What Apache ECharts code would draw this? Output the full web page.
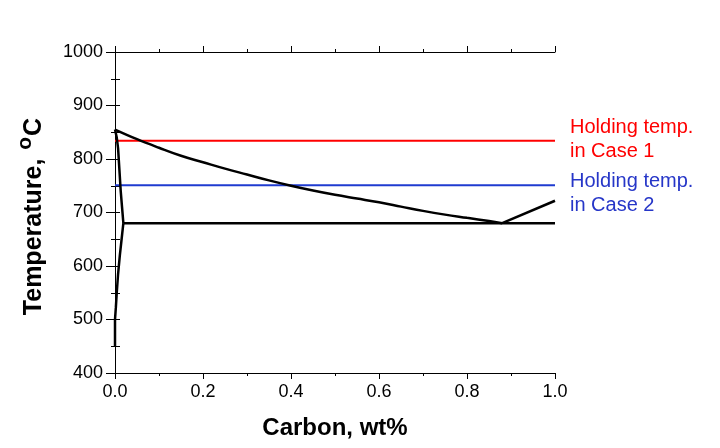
<!DOCTYPE html>
<html>
<head>
<meta charset="utf-8">
<script src="https://cdn.jsdelivr.net/npm/echarts@6/dist/echarts.min.js"></script>
<style>html,body{margin:0;padding:0;background:#fff}#c{width:720px;height:448px}</style>
</head>
<body>
<div id="c"></div>
<script>
// A3 line (alpha+gamma / gamma boundary), [carbon wt%, temperature]
const a3Line = [[0,855],[0.05,837],[0.1,821],[0.15,806],[0.2,794],[0.25,782],[0.3,771],[0.35,760],[0.4,750],[0.45,741],[0.5,733],[0.55,726],[0.6,719],[0.65,711],[0.7,703],[0.75,696],[0.8,690],[0.85,684],[0.88,680]];
// Acm line
const acmLine = [[0.88,680],[1.0,722]];
// ferrite / (alpha+gamma) boundary
const ferriteUpper = [[0.0,855],[0.004,840],[0.007,820],[0.010,780],[0.013,740],[0.016,710],[0.019,680]];
// carbon solubility in ferrite below eutectoid
const ferriteSolvus = [[0.019,680],[0.015,650],[0.011,620],[0.007,585],[0.004,550],[0.002,523],[0.0,500],[0.0,450]];
// eutectoid isotherm
const eutectoid = [[0.019,680],[1.0,680]];
// holding temperatures
const holdCase1 = [[0,834],[1,834]];
const holdCase2 = [[0,751],[1,751]];
const annotations = [
  {lines:['Holding temp.','in Case 1'], color:'#ff0000'},
  {lines:['Holding temp.','in Case 2'], color:'#2636c8'}
];

const chart = echarts.init(document.getElementById('c'));
const font = 'Liberation Sans, Arial, sans-serif';
const axisLine = {show:true, lineStyle:{color:'#000', width:1}};
const line = (d, color, w, smooth) => ({type:'line', data:d, showSymbol:false, symbol:'none', smooth:smooth||false, lineStyle:{color, width:w}, itemStyle:{color}, silent:true, animation:false, z:3});

chart.setOption({
  animation:false,
  backgroundColor:'#fff',
  grid:{left:115, right:165, top:52, bottom:75},
  xAxis:[
    {type:'value', min:0, max:1, interval:0.2, position:'bottom',
     axisLine, splitLine:{show:false},
     axisTick:{show:true, inside:false, length:6, lineStyle:{color:'#000'}},
     minorTick:{show:true, splitNumber:2, length:3, lineStyle:{color:'#000'}},
     axisLabel:{fontFamily:font, fontSize:18, color:'#000', margin:10, formatter:v=>v.toFixed(1)},
     name:'Carbon, wt%', nameLocation:'middle', nameGap:43,
     nameTextStyle:{fontFamily:font, fontSize:24, fontWeight:'bold', color:'#000'}},
    {type:'value', min:0, max:1, interval:0.2, position:'top',
     axisLine, splitLine:{show:false}, axisLabel:{show:false},
     axisTick:{show:true, inside:false, length:6, lineStyle:{color:'#000'}},
     minorTick:{show:true, splitNumber:2, length:3, lineStyle:{color:'#000'}}}
  ],
  yAxis:[
    {type:'value', min:400, max:1000, interval:100, position:'left',
     axisLine, splitLine:{show:false},
     axisTick:{show:true, inside:false, length:9, lineStyle:{color:'#000'}},
     minorTick:{show:true, splitNumber:2, length:4, lineStyle:{color:'#000'}},
     axisLabel:{fontFamily:font, fontSize:18, color:'#000', margin:12, formatter:v=>String(v)},
     name:'{b|Temperature, }{s|o}{b|C}', nameLocation:'middle', nameGap:68,
     nameTextStyle:{fontFamily:font, color:'#000', padding:[0,0,0,-8],
       rich:{b:{fontFamily:font, fontSize:25, fontWeight:'bold', color:'#000', lineHeight:32, verticalAlign:'bottom'},
             s:{fontFamily:font, fontSize:21, fontWeight:'bold', color:'#000', lineHeight:32, verticalAlign:'top', padding:[0,1,0,2]}}}},
    {type:'value', min:400, max:1000, interval:100, position:'right',
     axisLine, splitLine:{show:false}, axisLabel:{show:false},
     axisTick:{show:true, inside:false, length:5, lineStyle:{color:'#000'}},
     minorTick:{show:true, splitNumber:2, length:5, lineStyle:{color:'#000'}}}
  ],
  series:[
    line(holdCase1, '#ff0000', 2),
    line(holdCase2, '#1f3bd0', 2),
    line(eutectoid, '#000', 2.5),
    line(a3Line, '#000', 2.5, 0.4),
    line(acmLine, '#000', 2.5),
    line(ferriteUpper, '#000', 2.5),
    line(ferriteSolvus, '#000', 2.5)
  ],
  graphic: annotations.map((a,i)=>({
    type:'text', left:570, top: i===0 ? 115 : 169,
    style:{text:a.lines.join('\n'), fill:a.color, font:'20px '+font, lineHeight:24}
  }))
});
</script>
</body>
</html>
